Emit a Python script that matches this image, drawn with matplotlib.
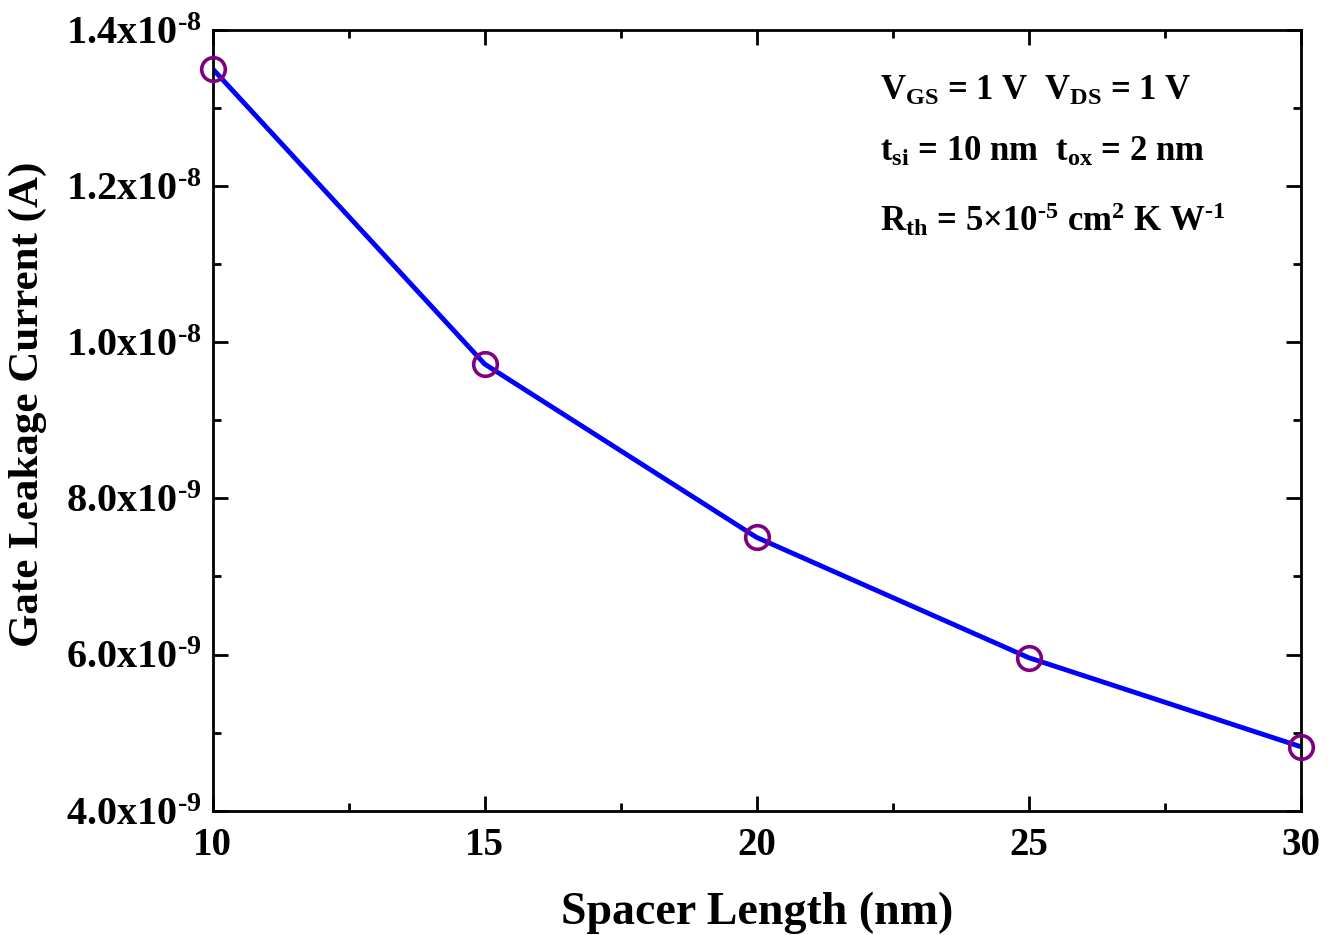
import matplotlib
matplotlib.use('Agg')
import matplotlib.pyplot as plt
from matplotlib.ticker import MultipleLocator, FixedLocator, FixedFormatter

plt.rcParams['font.family'] = 'Liberation Serif'
plt.rcParams['font.weight'] = 'bold'
plt.rcParams['mathtext.fontset'] = 'custom'
plt.rcParams['mathtext.rm'] = 'Liberation Serif:bold'
plt.rcParams['mathtext.it'] = 'Liberation Serif:bold'
plt.rcParams['mathtext.bf'] = 'Liberation Serif:bold'
plt.rcParams['mathtext.default'] = 'rm'

# data
spacer_nm = [10, 15, 20, 25, 30]
leak_A = [1.35e-8, 9.72e-9, 7.50e-9, 5.96e-9, 4.82e-9]

y_ticks = [4e-9, 6e-9, 8e-9, 1.0e-8, 1.2e-8, 1.4e-8]
y_labels = [r'4.0x10$^{\text{-}9}$', r'6.0x10$^{\text{-}9}$', r'8.0x10$^{\text{-}9}$',
            r'1.0x10$^{\text{-}8}$', r'1.2x10$^{\text{-}8}$', r'1.4x10$^{\text{-}8}$']

fig = plt.figure(figsize=(13.38, 9.35), dpi=100)
ax = fig.add_axes([0.159, 0.133, 0.813, 0.835])

ax.plot(spacer_nm, leak_A, color='#0000ff', lw=3.5, zorder=2)
ax.plot(spacer_nm, leak_A, ls='none', marker='o', ms=17, mfc='none',
        mec='#800080', mew=2.6, zorder=3, clip_on=False)

ax.set_xlim(10, 30)
ax.set_ylim(4e-9, 1.4e-8)
ax.xaxis.set_major_locator(MultipleLocator(5))
ax.xaxis.set_minor_locator(MultipleLocator(2.5))
ax.yaxis.set_major_locator(FixedLocator(y_ticks))
ax.yaxis.set_major_formatter(FixedFormatter(y_labels))
ax.yaxis.set_minor_locator(MultipleLocator(1e-9))

ax.tick_params(which='both', direction='in', top=True, right=True, width=2)
ax.tick_params(which='major', length=11)
ax.tick_params(which='minor', length=6)
ax.tick_params(axis='x', pad=12, labelsize=28)
ax.tick_params(axis='y', pad=8, labelsize=29)
for s in ax.spines.values():
    s.set_linewidth(2)

ax.set_xlabel('Spacer Length (nm)', fontsize=33, fontweight='bold', labelpad=20)
ax.set_ylabel('Gate Leakage Current (A)', fontsize=31, fontweight='bold')
ax.yaxis.set_label_coords(-0.152, 0.521)

ax.text(0.613, 0.921, r'V$_{GS}$ = 1 V  V$_{DS}$ = 1 V', transform=ax.transAxes,
        fontsize=25, va='center')
ax.text(0.613, 0.843, r't$_{si}$ = 10 nm  t$_{ox}$ = 2 nm', transform=ax.transAxes,
        fontsize=25, va='center')
ax.text(0.613, 0.757, r'R$_{th}$ = 5×10$^{\text{-}5}$ cm$^{2}$ K W$^{\text{-}1}$',
        transform=ax.transAxes, fontsize=25, va='center')

fig.savefig('out.png', dpi=100)
